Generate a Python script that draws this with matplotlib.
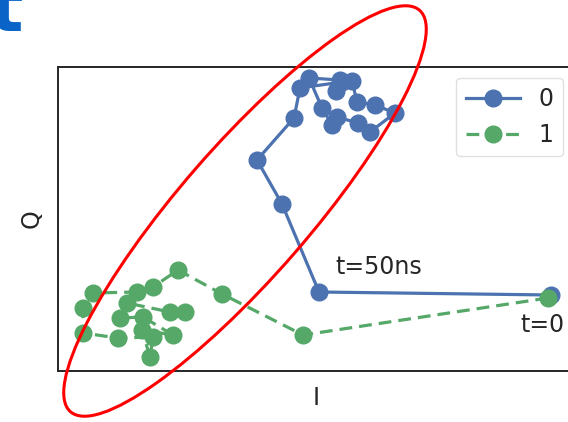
import matplotlib
matplotlib.use("Agg")
import matplotlib.pyplot as plt
from matplotlib.patches import Ellipse

# ---- data (I, Q) ----
i0 = [4.93, 2.61, 2.24, 1.99, 2.36, 2.42, 2.84, 2.94, 2.99, 3.17, 3.37, 3.12, 3.00, 2.79, 2.74, 2.64, 2.51, 2.82, 2.78]
q0 = [0.76, 0.79, 1.67, 2.11, 2.53, 2.83, 2.89, 2.90, 2.69, 2.66, 2.58, 2.39, 2.48, 2.54, 2.46, 2.63, 2.93, 2.91, 2.80]
i1 = [4.90, 2.45, 1.64, 1.20, 0.95, 0.79, 0.35, 0.25, 0.25, 0.60, 0.95, 0.92, 0.84, 1.15, 0.85, 0.62, 0.69, 1.12, 1.27]
q1 = [0.73, 0.36, 0.77, 1.01, 0.84, 0.79, 0.78, 0.63, 0.38, 0.33, 0.34, 0.14, 0.41, 0.36, 0.54, 0.53, 0.68, 0.59, 0.59]
labels = ["0", "1"]
ann_start = "t=0"
ann_50 = "t=50ns"

blue = "#4C72B0"
green = "#55A868"

fig = plt.figure(figsize=(5.68, 4.22), dpi=100)
ax = fig.add_axes([58/568, 51/422, 516/568, 304/422])

ax.plot(i0, q0, "-o", color=blue, lw=2.3, ms=12, mec=blue, label=labels[0], zorder=3)
ax.plot(i1, q1, "--o", color=green, lw=2.3, ms=12, mec=green, label=labels[1],
        dashes=(4, 2.2), zorder=4)

ax.set_xlim(0, 5.16)
ax.set_ylim(0, 3.04)
ax.set_xticks([])
ax.set_yticks([])
for s in ax.spines.values():
    s.set_color("#262626")
    s.set_linewidth(1.4)

ax.set_xlabel("I", fontsize=17, labelpad=11, color="#262626")
ax.set_ylabel("Q", fontsize=17, labelpad=10, color="#262626")

ax.annotate(ann_50, xy=(i0[1], q0[1]), xytext=(12, 9), textcoords="offset points",
            fontsize=17, color="#262626", ha="left", va="bottom")
ax.annotate(ann_start, xy=(i0[0], q0[0]), xytext=(-6, -13), textcoords="offset points",
            fontsize=17, color="#262626", ha="center", va="top", zorder=6)

leg = ax.legend(loc="upper right", fontsize=17, frameon=True, fancybox=True,
                handlelength=2.3, handletextpad=0.8, borderaxespad=0.45,
                labelspacing=0.5, borderpad=0.4)
leg.get_frame().set_edgecolor("#d9d9d9")
leg.get_frame().set_linewidth(1.0)
for t in leg.get_texts():
    t.set_color("#262626")

ell = Ellipse((1.87, 1.60), width=5.32, height=1.30, angle=49, fill=False,
              edgecolor="red", lw=2.2, clip_on=False, zorder=10)
ax.add_patch(ell)

fig.text(-11/568, (422-31)/422, "t", fontsize=52, fontweight="bold", color="#0a64c8",
         ha="left", va="baseline")

fig.savefig("out.png", dpi=100)
